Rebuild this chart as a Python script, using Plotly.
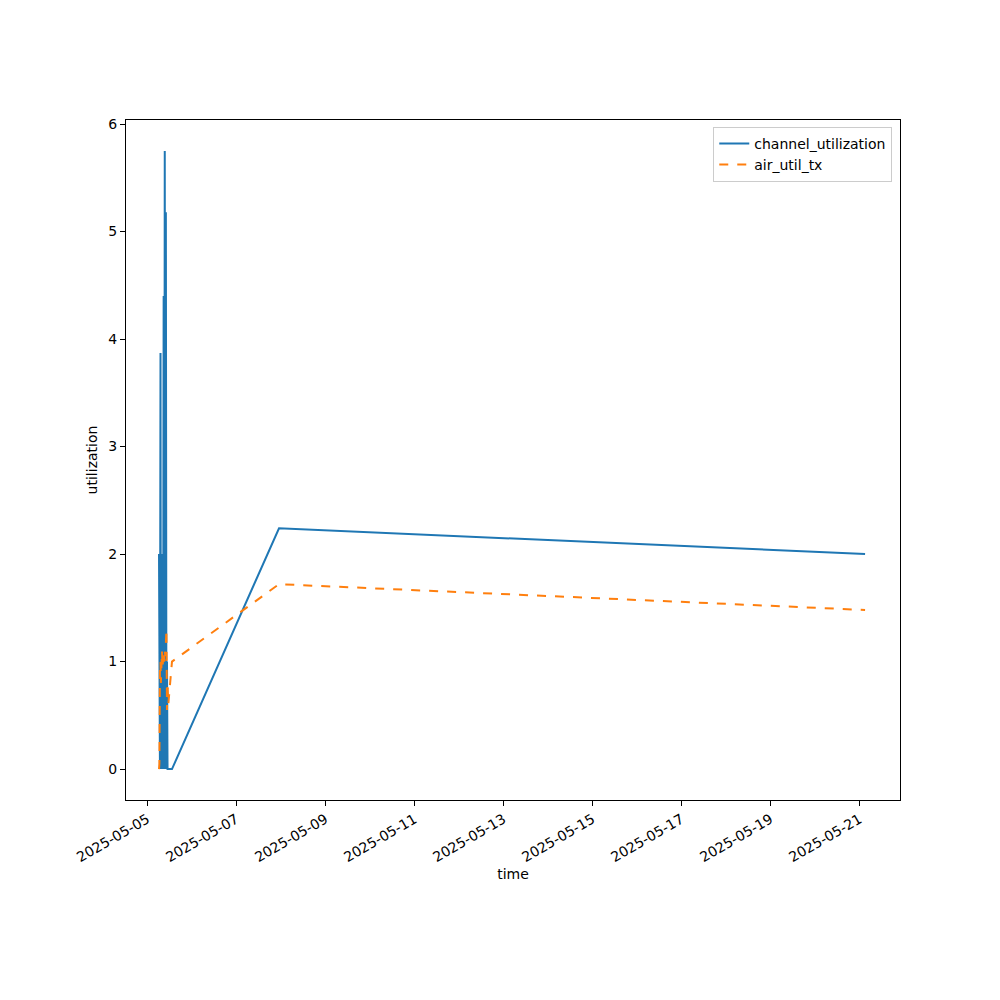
import plotly.graph_objects as go
import pandas as pd

# Timestamps (dense burst on 2025-05-05, then two sparse points)
times = [
    "2025-05-05 06:18", "2025-05-05 06:30", "2025-05-05 06:48", "2025-05-05 07:06",
    "2025-05-05 07:18", "2025-05-05 07:36", "2025-05-05 07:54", "2025-05-05 08:12",
    "2025-05-05 08:30", "2025-05-05 08:48", "2025-05-05 09:06", "2025-05-05 09:24",
    "2025-05-05 09:42", "2025-05-05 10:00", "2025-05-05 10:18", "2025-05-05 10:36",
    "2025-05-05 10:54", "2025-05-05 11:18", "2025-05-05 13:18",
    "2025-05-07 23:00", "2025-05-21 03:00",
]
channel_utilization = [
    2.0, 0.0, 0.0, 3.87,
    0.0, 1.1, 0.0, 2.0,
    0.0, 4.4, 0.0, 5.75,
    0.0, 5.18, 0.0, 1.0,
    0.0, 0.0, 0.0,
    2.24, 2.0,
]
air_util_tx = [
    0.0, 0.05, 0.9, 1.0,
    0.8, 1.05, 1.1, 0.95,
    1.05, 1.1, 1.0, 1.1,
    1.05, 1.15, 1.3, 0.55,
    0.8, 0.6, 1.0,
    1.72, 1.48,
]
x_ticks = ["2025-05-05", "2025-05-07", "2025-05-09", "2025-05-11", "2025-05-13",
           "2025-05-15", "2025-05-17", "2025-05-19", "2025-05-21"]
y_ticks = [0, 1, 2, 3, 4, 5, 6]

t = pd.to_datetime(times)

fig = go.Figure()
fig.add_trace(go.Scatter(x=t, y=channel_utilization, mode="lines", name="channel_utilization",
                         line=dict(color="#1f77b4", width=2)))
fig.add_trace(go.Scatter(x=t, y=air_util_tx, mode="lines", name="air_util_tx",
                         line=dict(color="#ff7f0e", width=2, dash="dash")))

axis_common = dict(showline=True, linecolor="black", linewidth=1, mirror=True,
                   ticks="outside", ticklen=5, tickcolor="black", showgrid=False,
                   zeroline=False, tickfont=dict(size=14, color="black"),
                   title_font=dict(size=14, color="black"))

fig.update_layout(
    width=1000, height=1000,
    paper_bgcolor="white", plot_bgcolor="white",
    font=dict(family="DejaVu Sans", size=14, color="black"),
    margin=dict(l=118, r=108, t=112, b=208),
    showlegend=True,
    legend=dict(x=0.99, y=0.99, xanchor="right", yanchor="top",
                bordercolor="#cccccc", borderwidth=1, bgcolor="rgba(255,255,255,0.8)",
                font=dict(size=14)),
    xaxis=dict(axis_common, range=["2025-05-04 12:30", "2025-05-21 21:50"],
               tickvals=pd.to_datetime(x_ticks), ticktext=x_ticks, tickangle=-30,
               title=dict(text="time", standoff=5)),
    yaxis=dict(axis_common, range=[-0.2875, 6.0375], tickvals=y_ticks,
               ticktext=[str(v) for v in y_ticks],
               title=dict(text="utilization", standoff=7)),
)

fig.write_html("out.html")
